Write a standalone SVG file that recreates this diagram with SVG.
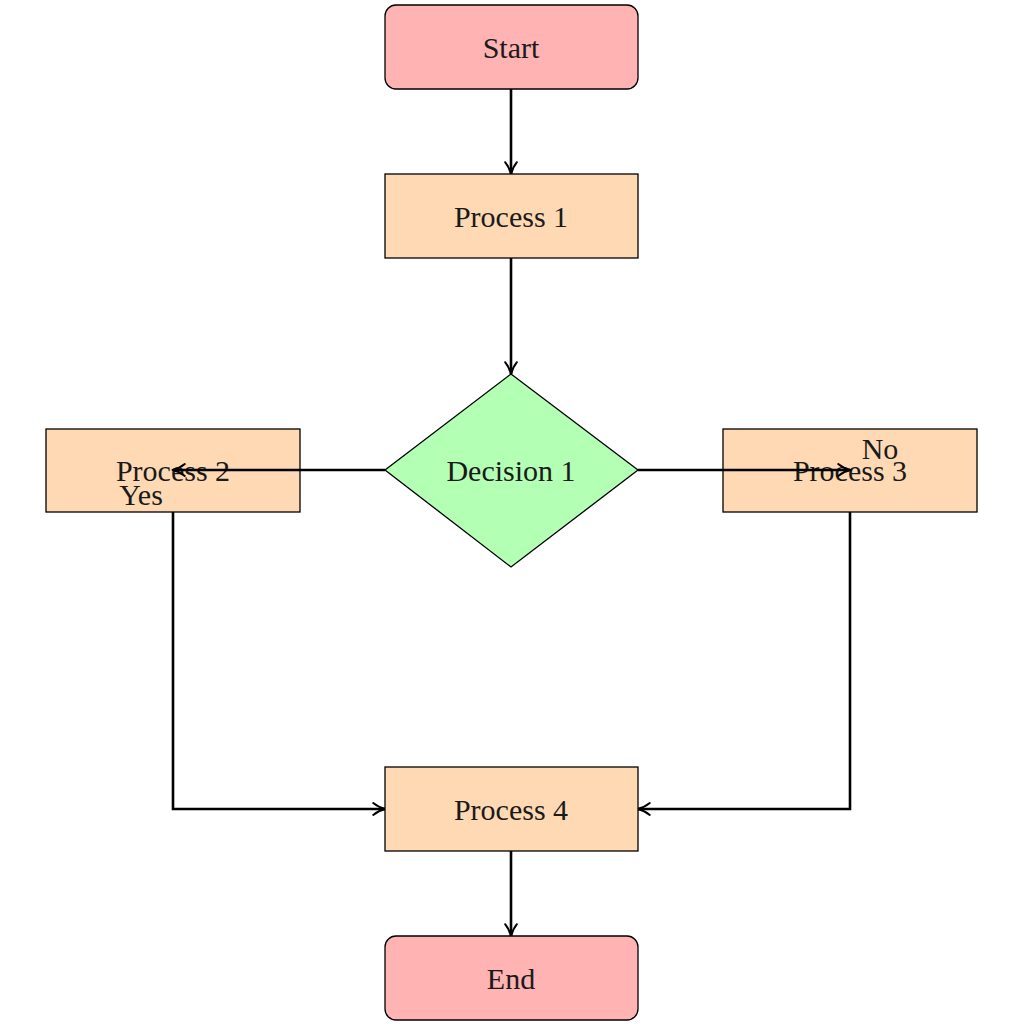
<svg xmlns="http://www.w3.org/2000/svg" width="1024" height="1024" viewBox="0 0 1024 1024">
<style>
text{font-family:"Liberation Serif","Times New Roman",serif;font-size:30px;fill:#1a1a1a;text-anchor:middle;dominant-baseline:central}
.term{fill:#FFB3B3;stroke:#000;stroke-width:1.3}
.proc{fill:#FFD9B3;stroke:#000;stroke-width:1.3}
.dec{fill:#B3FFB3;stroke:#000;stroke-width:1.3}
.edge{fill:none;stroke:#000;stroke-width:2.6}
</style>
<defs>
<marker id="arr" viewBox="0 0 14 14" refX="12.5" refY="7" markerWidth="15" markerHeight="15" markerUnits="userSpaceOnUse" orient="auto">
<path d="M1.5,1.5 Q6.5,5.6 13,7 Q6.5,8.4 1.5,12.5" fill="none" stroke="#000" stroke-width="1.8" stroke-linecap="round" stroke-linejoin="round"/>
</marker>
</defs>
<rect width="1024" height="1024" fill="#fff"/>
<g id="connectors">
<path class="edge" d="M511,89 V174" marker-end="url(#arr)"/>
<path class="edge" d="M511,258 V374" marker-end="url(#arr)"/>
<path class="edge" d="M173,512 V809 H385" marker-end="url(#arr)"/>
<path class="edge" d="M850,512 V809 H638" marker-end="url(#arr)"/>
<path class="edge" d="M511,851 V936" marker-end="url(#arr)"/>
</g>
<g id="start"><rect class="term" x="385" y="5" width="253" height="84" rx="11"/><text x="511" y="47">Start</text></g>
<g id="process1"><rect class="proc" x="385" y="174" width="253" height="84"/><text x="511" y="216">Process 1</text></g>
<g id="decision1"><polygon class="dec" points="511,374 638,470 511,567 385,470"/><text x="511" y="470">Decision 1</text></g>
<g id="process2"><rect class="proc" x="46" y="429" width="254" height="83"/><text x="173" y="470">Process 2</text></g>
<g id="process3"><rect class="proc" x="723" y="429" width="254" height="83"/><text x="850" y="470">Process 3</text></g>
<g id="process4"><rect class="proc" x="385" y="767" width="253" height="84"/><text x="511" y="809">Process 4</text></g>
<g id="end"><rect class="term" x="385" y="936" width="253" height="84" rx="11"/><text x="511" y="978">End</text></g>
<g id="connectors-over">
<path class="edge" d="M385,470 H173" marker-end="url(#arr)"/>
<path class="edge" d="M638,470 H850" marker-end="url(#arr)"/>
</g>
<g id="labels">
<text x="141" y="494">Yes</text>
<text x="880" y="448">No</text>
</g>
</svg>
